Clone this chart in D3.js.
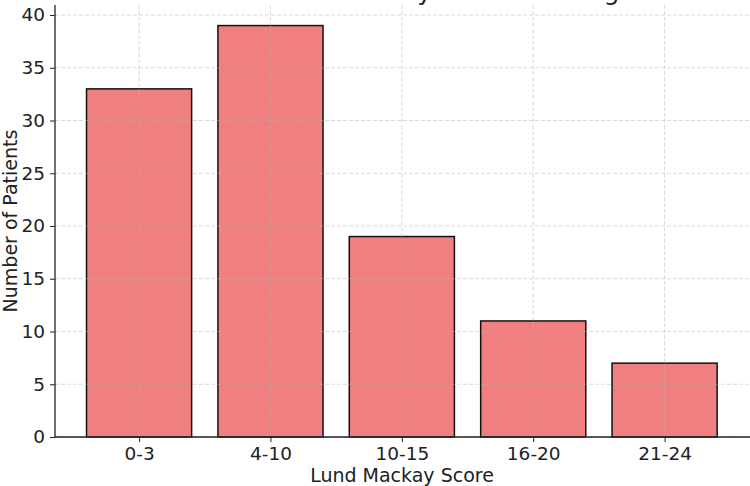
<!DOCTYPE html>
<html>
<head>
<meta charset="utf-8">
<script src="https://cdn.jsdelivr.net/npm/d3@7"></script>
<style>
  body { margin: 0; background: #fff; }
  svg { display: block; }
</style>
</head>
<body>
<div id="chart"></div>
<script>
const categories = ["0-3", "4-10", "10-15", "16-20", "21-24"];
const patients = [33, 39, 19, 11, 7];
const yTicks = [0, 5, 10, 15, 20, 25, 30, 35, 40];

const W = 750, H = 486;
const plotLeft = 55, plotRight = 750, plotTop = 5, plotBottom = 437;

const svg = d3.select("#chart")
  .append("svg")
  .attr("width", W)
  .attr("height", H)
  .style("font-family", "'DejaVu Sans', sans-serif");

const x = d3.scaleLinear()
  .domain([-0.64, 4.65])
  .range([plotLeft, plotRight]);
const bw = x(0.4) - x(-0.4);

const y = d3.scaleLinear()
  .domain([0, 40.95])
  .range([plotBottom, plotTop]);

// title: the reference is cropped so only its descenders show
svg.append("text")
  .attr("x", 405)
  .attr("y", 0)
  .attr("text-anchor", "middle")
  .attr("fill", "#222")
  .style("font-size", "25px")
  .text("Distribution of Lund Mackay Scores Among Patients");

// bars
svg.selectAll("rect.bar")
  .data(patients)
  .enter()
  .append("rect")
  .attr("class", "bar")
  .attr("x", (d, i) => x(i) - bw / 2)
  .attr("y", d => y(d))
  .attr("width", bw)
  .attr("height", d => y(0) - y(d))
  .attr("fill", "#f08080")
  .attr("stroke", "#111")
  .attr("stroke-width", 1.5);

// grid on top
const grid = svg.append("g")
  .attr("stroke", "#b0b0b0")
  .attr("stroke-opacity", 0.6)
  .attr("stroke-dasharray", "4,2")
  .attr("stroke-width", 0.8);

grid.selectAll("line.h")
  .data(yTicks)
  .enter()
  .append("line")
  .attr("x1", plotLeft).attr("x2", plotRight)
  .attr("y1", d => y(d)).attr("y2", d => y(d));

grid.selectAll("line.v")
  .data(categories)
  .enter()
  .append("line")
  .attr("x1", (d, i) => x(i)).attr("x2", (d, i) => x(i))
  .attr("y1", plotTop).attr("y2", plotBottom);

// axes
const xAxis = svg.append("g")
  .attr("transform", `translate(0,${plotBottom})`)
  .call(d3.axisBottom(x)
    .tickValues(d3.range(categories.length))
    .tickFormat(i => categories[i])
    .tickSize(5)
    .tickPadding(5));

const yAxis = svg.append("g")
  .attr("transform", `translate(${plotLeft},0)`)
  .call(d3.axisLeft(y)
    .tickValues(yTicks)
    .tickSize(5)
    .tickPadding(5));

[xAxis, yAxis].forEach(a => {
  a.select(".domain").attr("stroke", "#222").attr("stroke-width", 1.3);
  a.selectAll(".tick line").attr("stroke", "#222").attr("stroke-width", 1);
  a.selectAll("text")
    .attr("fill", "#222")
    .style("font-size", "18.5px")
    .style("font-family", "'DejaVu Sans', sans-serif");
});
yAxis.select(".domain").attr("d", `M0,${plotTop}V${plotBottom}`);
xAxis.select(".domain").attr("d", `M${plotLeft},0H${plotRight}`);

svg.append("text")
  .attr("x", 402)
  .attr("y", 482)
  .attr("text-anchor", "middle")
  .attr("fill", "#222")
  .style("font-size", "19px")
  .text("Lund Mackay Score");

svg.append("text")
  .attr("transform", "rotate(-90)")
  .attr("x", -(plotTop + plotBottom) / 2)
  .attr("y", 17)
  .attr("text-anchor", "middle")
  .attr("fill", "#222")
  .style("font-size", "19px")
  .text("Number of Patients");
</script>
</body>
</html>
